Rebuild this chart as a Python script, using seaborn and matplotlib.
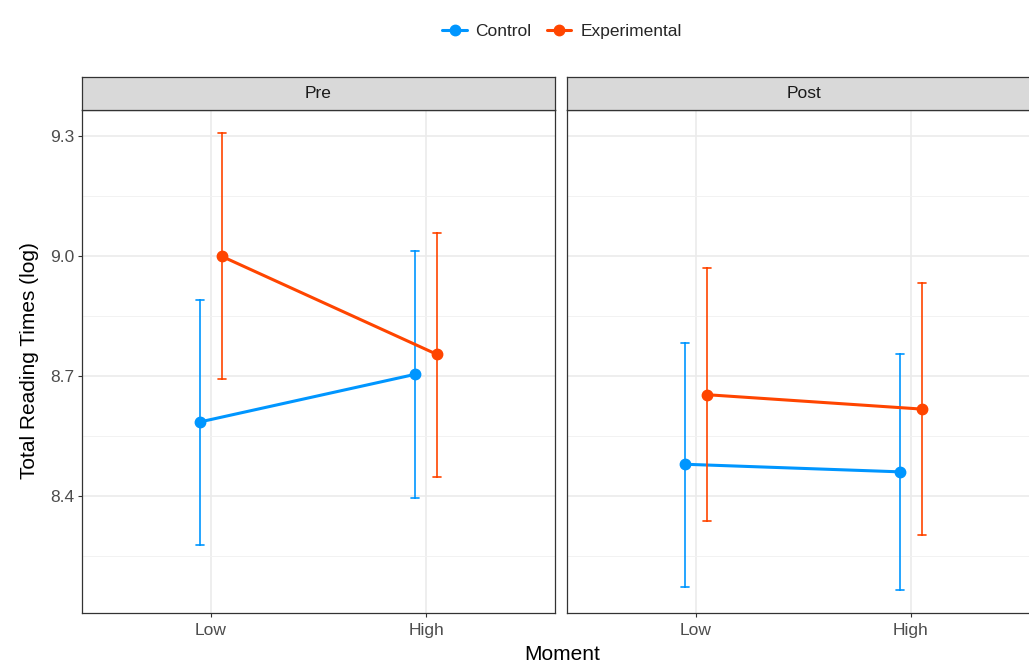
import numpy as np
import pandas as pd
import matplotlib
matplotlib.use("Agg")
import matplotlib.pyplot as plt
from matplotlib.lines import Line2D
import seaborn as sns

# Values (means with lower / upper interval bounds)
moments = ["Low", "High"]
groups = ["Control", "Experimental"]
times = ["Pre", "Post"]

pre_control_mean = [8.586, 8.705]
pre_control_lo = [8.278, 8.395]
pre_control_hi = [8.890, 9.013]
pre_exp_mean = [9.000, 8.755]
pre_exp_lo = [8.693, 8.448]
pre_exp_hi = [9.309, 9.059]

post_control_mean = [8.480, 8.461]
post_control_lo = [8.174, 8.165]
post_control_hi = [8.784, 8.755]
post_exp_mean = [8.654, 8.618]
post_exp_lo = [8.338, 8.303]
post_exp_hi = [8.970, 8.933]

y_ticks = [8.4, 8.7, 9.0, 9.3]
y_minor = [8.25, 8.55, 8.85, 9.15]

colors = {"Control": "#0096FF", "Experimental": "#FF4500"}

# Long table: for each cell three rows (lo, mean, hi); median -> mean, min/max -> interval
rows = []
series = {
    ("Pre", "Control"): (pre_control_lo, pre_control_mean, pre_control_hi),
    ("Pre", "Experimental"): (pre_exp_lo, pre_exp_mean, pre_exp_hi),
    ("Post", "Control"): (post_control_lo, post_control_mean, post_control_hi),
    ("Post", "Experimental"): (post_exp_lo, post_exp_mean, post_exp_hi),
}
for (t, g), (lo, mid, hi) in series.items():
    for i, m in enumerate(moments):
        for v in (lo[i], mid[i], hi[i]):
            rows.append({"Time": t, "Group": g, "Moment": m, "Value": v})
df = pd.DataFrame(rows)

sns.set_theme(style="white")
plt.rcParams["font.family"] = ["Liberation Sans", "DejaVu Sans"]

W, H = 1029, 664
fig = plt.figure(figsize=(W / 100, H / 100), dpi=100)
fig.patch.set_facecolor("white")

panel_left = [82, 567]
panel_w = 473
panel_top, panel_bot = 110, 613
strip_top = 77

for k, t in enumerate(times):
    x0 = panel_left[k]
    ax = fig.add_axes([x0 / W, 1 - panel_bot / H, panel_w / W, (panel_bot - panel_top) / H])
    sns.pointplot(
        data=df[df["Time"] == t], x="Moment", y="Value", hue="Group",
        order=moments, hue_order=groups, palette=colors,
        estimator="median", errorbar=lambda v: (v.min(), v.max()),
        dodge=0.1, capsize=0.035, legend=False, ax=ax,
        linewidth=2.2, markersize=7.5, markeredgewidth=1,
        err_kws={"linewidth": 1.2},
    )
    ax.set_xlim(-0.6, 1.6)
    ax.set_ylim(8.108, 9.366)
    ax.set_yticks(y_ticks)
    ax.set_yticks(y_minor, minor=True)
    ax.set_yticklabels([f"{v:.1f}" for v in y_ticks])
    ax.set_axisbelow(True)
    ax.grid(which="major", color="#EBEBEB", linewidth=1.2)
    ax.grid(which="minor", axis="y", color="#F2F2F2", linewidth=0.7)
    ax.tick_params(which="minor", length=0)
    ax.tick_params(axis="both", which="major", length=3, width=0.8, color="#333333",
                   labelsize=12.5, labelcolor="#4D4D4D", pad=2.5, direction="out")
    ax.tick_params(axis="x", bottom=True, pad=4.5)
    ax.tick_params(axis="y", left=True)
    if k > 0:
        ax.tick_params(axis="y", left=False, labelleft=False)
    ax.set_xlabel("")
    ax.set_ylabel("")
    for s in ax.spines.values():
        s.set_color("#333333")
        s.set_linewidth(0.9)

    # facet strip
    sax = fig.add_axes([x0 / W, 1 - panel_top / H, panel_w / W, (panel_top - strip_top) / H])
    sax.set_facecolor("#D9D9D9")
    sax.set_xticks([])
    sax.set_yticks([])
    for s in sax.spines.values():
        s.set_color("#333333")
        s.set_linewidth(0.9)
    sax.text(0.5, 0.5, t, ha="center", va="center", fontsize=12.5, color="#1A1A1A",
             transform=sax.transAxes)

fig.text(30 / W, 1 - 361 / H, "Total Reading Times (log)", rotation=90,
         ha="center", va="center", fontsize=15, color="black")
fig.text(562 / W, 1 - 654 / H, "Moment", ha="center", va="center", fontsize=15, color="black")

handles = [Line2D([], [], color=colors[g], marker="o", linewidth=2.2, markersize=7.5)
           for g in groups]
fig.legend(handles, groups, loc="center", bbox_to_anchor=(562 / W, 1 - 31 / H),
           ncol=2, frameon=False, fontsize=12.5, handlelength=1.4, handletextpad=0.5,
           columnspacing=0.9)

fig.savefig("out.png", dpi=100)
